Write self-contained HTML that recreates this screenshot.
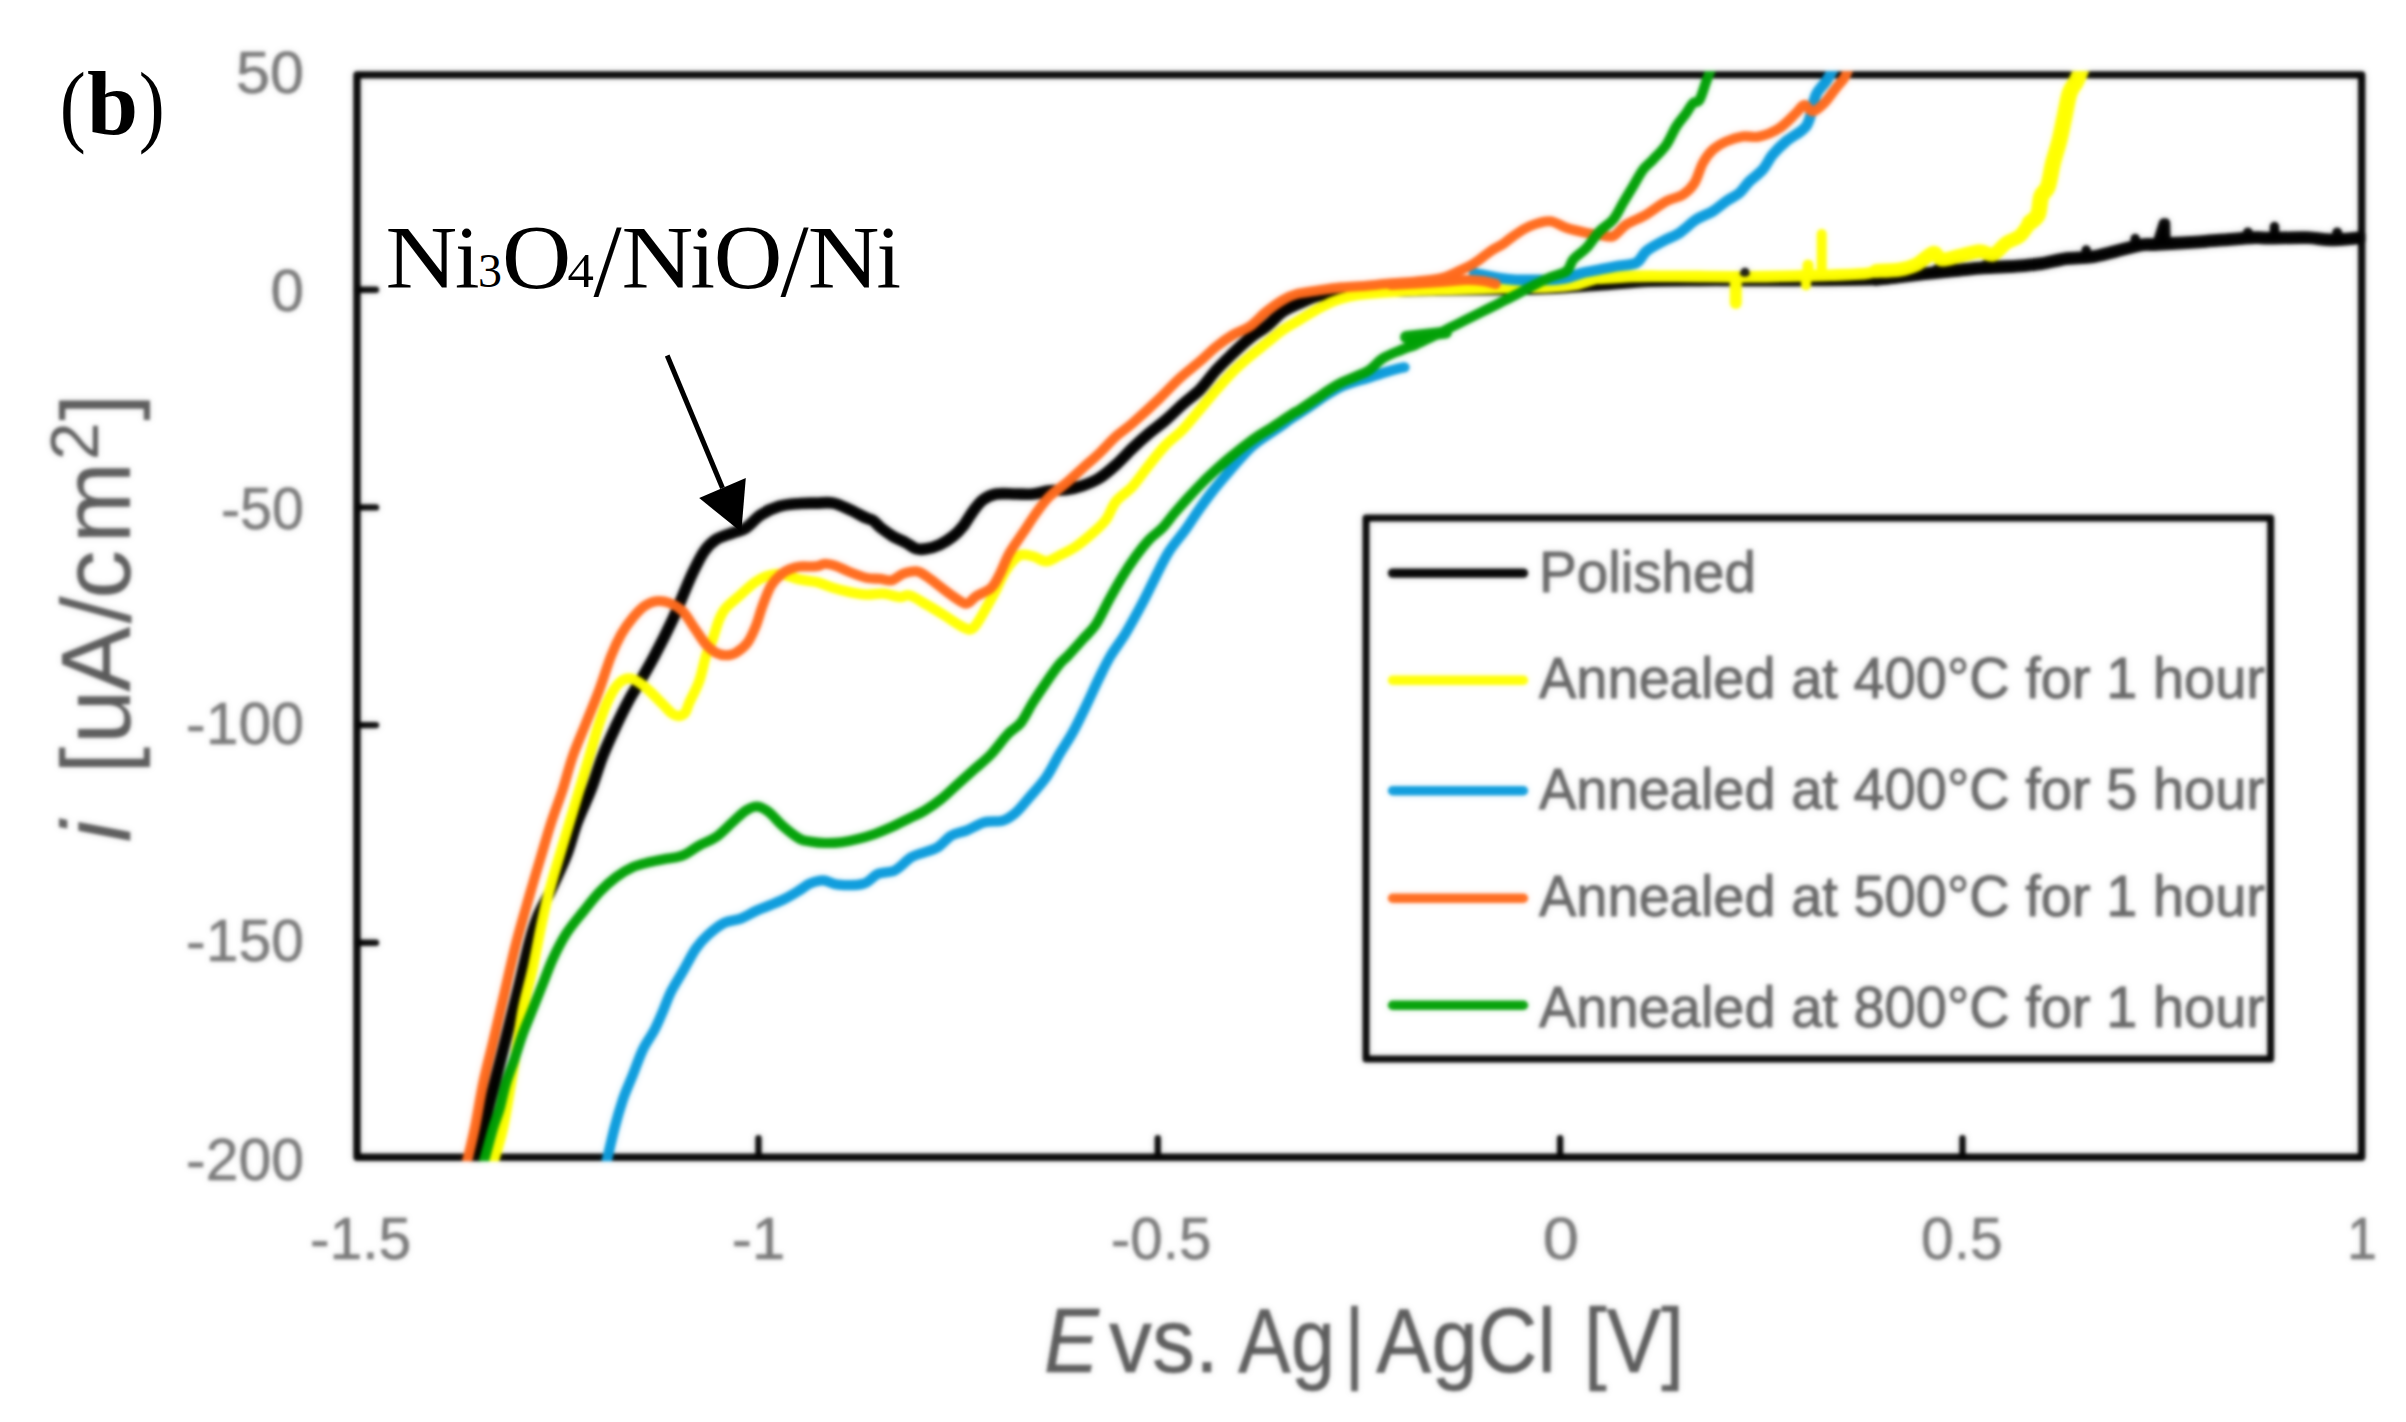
<!DOCTYPE html>
<html><head><meta charset="utf-8"><title>Figure (b)</title>
<style>
html,body{margin:0;padding:0;background:#fff;}
body{width:2406px;height:1422px;overflow:hidden;}
svg{display:block;}
.sans{font-family:"Liberation Sans",sans-serif;}
.serif{font-family:"Liberation Serif",serif;}
</style></head><body>
<svg width="2406" height="1422" viewBox="0 0 2406 1422">
<defs>
<filter id="bl" color-interpolation-filters="sRGB" x="-2%" y="-2%" width="104%" height="104%" filterUnits="objectBoundingBox"><feGaussianBlur in="SourceGraphic" stdDeviation="1.4" result="a"/><feGaussianBlur in="SourceGraphic" stdDeviation="3.4" result="b"/><feComposite in="a" in2="b" operator="arithmetic" k1="0" k2="0.74" k3="0.26" k4="0"/></filter>
<clipPath id="cp"><rect x="353" y="71.2" width="2012.4" height="1090"/></clipPath>
</defs>
<rect width="2406" height="1422" fill="#fff"/>
<g filter="url(#bl)">
<rect x="0" y="0" width="2406" height="1422" fill="#fff"/>
<g fill="none" stroke="#000" stroke-width="7.4" stroke-linecap="round" stroke-linejoin="round">
<rect x="357.0" y="74.9" width="2004.7" height="1082.4"/>
<g stroke-width="6.4"><line x1="758.5" y1="1157.3" x2="758.5" y2="1138.3"/><line x1="1157.8" y1="1157.3" x2="1157.8" y2="1138.3"/><line x1="1560.1" y1="1157.3" x2="1560.1" y2="1138.3"/><line x1="1962.5" y1="1157.3" x2="1962.5" y2="1138.3"/><line x1="357.0" y1="289.7" x2="376.0" y2="289.7"/><line x1="357.0" y1="507.4" x2="376.0" y2="507.4"/><line x1="357.0" y1="725.1" x2="376.0" y2="725.1"/><line x1="357.0" y1="942.8" x2="376.0" y2="942.8"/></g>
</g>
<g clip-path="url(#cp)" fill="none" stroke-linecap="round" stroke-linejoin="round">
<path d="M474.9,1162.0C476.3,1156.3 479.8,1141.2 483.1,1128.1C486.4,1115.0 491.2,1096.2 494.5,1083.2C497.8,1070.2 500.3,1061.1 503.1,1050.0C505.9,1038.9 508.6,1027.8 511.4,1016.7C514.2,1005.6 516.7,995.9 519.7,983.4C522.8,970.9 526.6,953.3 529.7,941.9C532.8,930.5 535.1,923.3 538.5,915.0C541.9,906.7 545.4,901.9 550.0,892.0C554.6,882.1 561.8,867.1 566.3,855.5C570.8,843.9 573.0,833.4 577.1,822.3C581.2,811.2 586.9,800.1 591.2,789.0C595.5,777.9 598.6,766.3 602.8,755.8C606.9,745.3 611.7,735.2 616.1,725.8C620.5,716.4 625.5,706.4 629.4,699.2C633.3,692.0 635.2,689.8 639.4,682.6C643.6,675.4 648.8,666.5 654.4,656.0C660.0,645.5 668.0,629.5 672.7,619.5C677.4,609.5 679.3,604.0 682.6,596.2C685.9,588.5 689.0,580.5 692.6,573.0C696.2,565.5 700.3,556.8 704.2,551.3C708.1,545.8 711.2,542.8 715.9,539.7C720.6,536.7 727.5,535.0 732.5,533.0C737.5,531.0 741.1,531.0 745.8,528.0C750.5,525.0 755.3,518.4 760.8,514.8C766.3,511.2 772.5,508.3 779.0,506.4C785.5,504.5 793.7,504.1 800.0,503.5C806.3,502.9 811.1,503.2 816.6,503.1C822.1,503.0 827.8,502.0 833.3,503.1C838.8,504.2 844.4,507.3 849.9,509.8C855.4,512.3 862.6,516.3 866.5,518.1C870.4,519.9 870.6,518.9 873.0,520.5C875.4,522.1 877.6,525.4 881.0,528.0C884.4,530.6 888.9,533.9 893.1,536.4C897.3,538.9 902.5,540.9 906.4,543.0C910.3,545.1 913.1,547.8 916.4,548.8C919.7,549.8 922.5,549.5 926.4,548.8C930.3,548.1 935.3,546.8 939.7,544.7C944.1,542.6 949.1,539.5 953.0,536.4C956.9,533.3 959.6,530.6 962.9,526.4C966.2,522.2 969.6,515.8 972.9,511.4C976.2,507.0 979.0,502.7 982.9,499.8C986.8,496.9 990.7,495.0 996.2,494.0C1001.7,493.0 1010.0,494.0 1016.1,494.0C1022.2,494.0 1027.2,494.6 1032.8,494.0C1038.3,493.4 1043.9,491.4 1049.4,490.7C1054.9,490.0 1060.5,490.6 1066.0,489.8C1071.5,489.0 1077.0,487.6 1082.6,485.7C1088.1,483.8 1093.8,481.7 1099.3,478.2C1104.8,474.7 1110.4,469.9 1115.9,464.9C1121.4,459.9 1127.0,453.6 1132.5,448.3C1138.0,443.0 1143.5,438.0 1149.1,433.3C1154.6,428.6 1160.1,424.9 1165.8,420.0C1171.5,415.1 1177.3,409.1 1183.0,404.0C1188.7,398.9 1194.4,395.3 1200.0,389.6C1205.6,383.9 1211.0,375.8 1216.6,369.7C1222.1,363.6 1227.8,358.3 1233.3,353.0C1238.8,347.7 1244.4,342.5 1249.9,338.1C1255.4,333.7 1261.0,330.8 1266.5,326.4C1272.0,322.0 1277.5,315.4 1283.1,311.5C1288.6,307.6 1294.2,305.7 1299.8,303.2C1305.3,300.7 1309.7,298.4 1316.4,296.5C1323.1,294.6 1326.1,292.9 1340.0,292.0C1353.9,291.1 1381.7,291.3 1400.0,291.0C1418.3,290.7 1433.3,290.2 1450.0,290.0C1466.7,289.8 1483.3,289.8 1500.0,289.5C1516.7,289.2 1533.3,289.2 1550.0,288.5C1566.7,287.8 1583.3,286.2 1600.0,285.0C1616.7,283.8 1633.3,281.9 1650.0,281.2C1666.7,280.5 1685.3,280.7 1700.0,280.6C1714.7,280.5 1721.3,280.6 1738.0,280.6C1754.7,280.6 1777.0,280.8 1800.0,280.6C1823.0,280.4 1857.8,280.3 1876.0,279.5C1894.2,278.7 1899.5,276.7 1909.1,275.6C1918.6,274.5 1925.1,273.7 1933.3,272.8C1941.5,271.9 1949.9,271.1 1958.2,270.3C1966.5,269.5 1973.4,268.5 1983.1,267.8C1992.8,267.1 2006.7,266.9 2016.4,266.2C2026.1,265.5 2033.0,264.9 2041.3,263.7C2049.6,262.4 2058.0,259.8 2066.3,258.7C2074.6,257.6 2082.9,258.2 2091.2,257.0C2099.5,255.8 2107.8,253.2 2116.1,251.2C2124.4,249.2 2134.7,246.1 2141.1,245.0C2147.5,243.9 2149.4,244.8 2154.4,244.5C2159.4,244.2 2163.5,243.9 2171.0,243.5C2178.5,243.1 2190.4,242.4 2199.3,241.8C2208.2,241.2 2215.2,240.5 2224.5,239.8C2233.8,239.1 2247.9,238.0 2255.3,237.7C2262.7,237.4 2260.4,238.2 2269.1,238.2C2277.8,238.2 2297.1,237.4 2307.4,237.7C2317.7,238.0 2322.0,239.8 2330.9,239.8C2339.8,239.8 2356.0,238.0 2361.0,237.7" stroke="#000000" stroke-width="11.6" />
<path d="M1876.0,279.5C1881.5,278.9 1899.5,276.7 1909.1,275.6C1918.6,274.5 1925.1,273.7 1933.3,272.8C1941.5,271.9 1949.9,271.1 1958.2,270.3C1966.5,269.5 1973.4,268.5 1983.1,267.8C1992.8,267.1 2006.7,266.9 2016.4,266.2C2026.1,265.5 2033.0,264.9 2041.3,263.7C2049.6,262.4 2058.0,259.8 2066.3,258.7C2074.6,257.6 2082.9,258.2 2091.2,257.0C2099.5,255.8 2107.8,253.2 2116.1,251.2C2124.4,249.2 2134.7,246.1 2141.1,245.0C2147.5,243.9 2149.4,244.8 2154.4,244.5C2159.4,244.2 2163.5,243.9 2171.0,243.5C2178.5,243.1 2190.4,242.4 2199.3,241.8C2208.2,241.2 2215.2,240.5 2224.5,239.8C2233.8,239.1 2247.9,238.0 2255.3,237.7C2262.7,237.4 2260.4,238.2 2269.1,238.2C2277.8,238.2 2297.1,237.4 2307.4,237.7C2317.7,238.0 2322.0,239.8 2330.9,239.8C2339.8,239.8 2356.0,238.0 2361.0,237.7" stroke="#000000" stroke-width="12.8" />
<path d="M1745,277L1745,272.5" stroke="#000000" stroke-width="9.5"/>
<path d="M1936.6,271L1936.6,269.5" stroke="#000000" stroke-width="10"/>
<path d="M1985,267L1985,265" stroke="#000000" stroke-width="9.5"/>
<path d="M2086.2,256L2086.2,250" stroke="#000000" stroke-width="9.5"/>
<path d="M2135.2,244L2135.2,238.5" stroke="#000000" stroke-width="9.5"/>
<path d="M2157.5,242L2163.5,223" stroke="#000000" stroke-width="9.5"/>
<path d="M2165.5,223L2166,242" stroke="#000000" stroke-width="9.5"/>
<path d="M2247.9,236L2247.9,232.5" stroke="#000000" stroke-width="10"/>
<path d="M2274.5,236L2274.5,226.5" stroke="#000000" stroke-width="9.5"/>
<path d="M2337.2,238L2337.2,232.5" stroke="#000000" stroke-width="10"/>
<path d="M493.5,1162.0C495.1,1156.3 500.2,1141.2 503.1,1128.1C506.0,1115.0 508.8,1096.2 511.0,1083.2C513.2,1070.2 514.4,1062.5 516.4,1050.0C518.4,1037.5 520.2,1022.3 523.0,1008.4C525.8,994.5 530.0,980.6 533.0,966.8C536.0,952.9 538.6,937.8 541.3,925.3C544.0,912.8 546.0,903.6 549.0,892.0C552.0,880.4 556.2,867.1 559.6,855.5C563.0,843.9 566.3,833.4 569.6,822.3C572.9,811.2 576.3,800.1 579.6,789.0C582.9,777.9 586.2,766.9 589.5,755.8C592.8,744.7 596.2,732.2 599.5,722.5C602.8,712.8 606.2,704.2 609.5,697.6C612.8,691.0 616.2,685.8 619.5,682.6C622.8,679.4 626.1,678.4 629.4,678.4C632.7,678.4 636.1,680.5 639.4,682.6C642.7,684.7 645.5,687.3 649.4,690.9C653.3,694.5 658.9,700.4 662.7,704.2C666.5,708.0 669.4,711.5 672.0,713.5C674.6,715.5 676.3,716.1 678.5,716.0C680.7,715.9 683.2,715.2 685.0,713.0C686.8,710.8 686.9,708.0 689.3,702.6C691.7,697.2 696.5,688.7 699.3,680.9C702.1,673.1 703.7,662.9 705.9,656.0C708.1,649.1 710.4,645.5 712.6,639.4C714.8,633.3 717.0,624.8 719.2,619.5C721.4,614.2 722.3,612.0 725.9,607.9C729.5,603.8 736.1,598.8 740.8,594.6C745.5,590.4 749.9,586.0 754.1,582.9C758.3,579.8 761.5,577.8 765.8,576.3C770.1,574.8 774.3,573.5 780.0,574.0C785.7,574.5 793.9,578.2 800.0,579.6C806.1,581.0 811.1,580.7 816.6,582.1C822.1,583.5 827.8,586.2 833.3,587.9C838.8,589.6 844.4,591.0 849.9,592.1C855.4,593.2 861.0,594.3 866.5,594.6C872.0,594.9 877.6,593.3 883.1,593.7C888.6,594.1 895.4,596.8 899.8,597.1C904.2,597.4 905.3,594.2 909.7,595.4C914.1,596.6 920.9,601.3 926.4,604.5C931.9,607.7 937.5,611.0 943.0,614.5C948.5,618.0 955.2,622.8 959.6,625.3C964.0,627.8 966.8,629.6 969.6,629.5C972.4,629.4 973.4,628.1 976.2,624.5C979.0,620.9 982.9,613.7 986.2,607.9C989.5,602.1 992.9,595.9 996.2,589.6C999.5,583.3 1002.1,575.7 1006.0,570.0C1009.9,564.3 1015.0,557.8 1019.5,555.5C1024.0,553.2 1028.4,555.3 1032.8,556.3C1037.2,557.3 1041.7,561.4 1046.1,561.3C1050.5,561.2 1054.4,558.0 1059.4,555.5C1064.4,553.0 1070.5,550.1 1076.0,546.4C1081.5,542.7 1087.6,537.5 1092.6,533.1C1097.6,528.7 1102.0,525.1 1105.9,519.8C1109.8,514.5 1111.5,507.1 1115.9,501.5C1120.3,495.9 1127.0,492.6 1132.5,486.5C1138.0,480.4 1143.5,471.8 1149.1,464.9C1154.6,458.0 1160.2,450.7 1165.8,444.9C1171.3,439.1 1177.2,435.3 1182.4,430.0C1187.6,424.7 1191.3,419.7 1197.0,413.0C1202.7,406.3 1210.5,396.6 1216.6,389.6C1222.6,382.7 1227.8,376.8 1233.3,371.3C1238.8,365.8 1244.4,361.1 1249.9,356.4C1255.4,351.7 1261.0,347.5 1266.5,343.1C1272.0,338.7 1277.5,333.7 1283.1,329.8C1288.6,325.9 1294.2,323.1 1299.8,319.8C1305.3,316.5 1310.9,312.9 1316.4,309.8C1321.9,306.8 1327.5,303.7 1333.0,301.5C1338.5,299.3 1344.0,297.8 1349.6,296.5C1355.1,295.2 1358.0,294.8 1366.3,294.0C1374.6,293.2 1385.7,292.2 1399.5,291.5C1413.3,290.8 1431.4,290.4 1449.4,289.9C1467.4,289.3 1491.0,288.6 1507.6,288.2C1524.2,287.8 1537.9,287.9 1549.1,287.4C1560.3,286.9 1566.5,286.5 1575.0,285.0C1583.5,283.5 1590.1,279.9 1599.8,278.5C1609.5,277.1 1621.9,276.8 1633.0,276.4C1644.1,276.0 1655.2,276.2 1666.3,276.2C1677.4,276.2 1689.0,276.3 1699.5,276.4C1710.0,276.5 1721.1,276.7 1729.4,276.8C1737.7,276.9 1740.5,276.9 1749.4,276.8C1758.3,276.7 1773.7,276.5 1782.6,276.3C1791.5,276.1 1794.6,276.0 1802.6,275.8C1810.6,275.6 1820.3,275.6 1830.8,275.2C1841.3,274.8 1858.3,274.2 1865.8,273.5C1873.3,272.8 1870.3,271.7 1876.0,271.0C1881.7,270.3 1893.2,270.6 1900.0,269.5C1906.8,268.4 1911.0,267.3 1916.6,264.5C1922.1,261.7 1929.1,253.7 1933.3,252.9C1937.5,252.1 1937.4,258.9 1941.6,259.5C1945.8,260.1 1951.8,257.6 1958.2,256.2C1964.6,254.8 1974.0,251.5 1979.8,251.2C1985.6,250.9 1988.7,255.9 1993.1,254.5C1997.5,253.1 2002.0,246.0 2006.4,242.9C2010.8,239.8 2015.8,239.5 2019.7,236.2C2023.6,232.9 2026.7,226.5 2029.7,222.9C2032.8,219.3 2036.1,219.0 2038.0,214.6C2039.9,210.2 2039.6,201.0 2041.3,196.3C2043.0,191.6 2046.0,191.9 2048.0,186.4C2049.9,180.9 2051.1,170.9 2053.0,163.1C2054.9,155.3 2057.7,147.6 2059.6,139.8C2061.5,132.0 2062.9,124.2 2064.6,116.5C2066.3,108.8 2067.7,99.1 2069.6,93.3C2071.5,87.5 2074.1,85.8 2076.2,81.6C2078.3,77.4 2081.0,70.3 2082.0,68.0" stroke="#ffff00" stroke-width="10.3" />
<path d="M1735.8,278L1735.8,303" stroke="#ffff00" stroke-width="12"/>
<path d="M1808,270L1808,265" stroke="#ffff00" stroke-width="11"/>
<path d="M1821.7,270L1821.7,234" stroke="#ffff00" stroke-width="10"/>
<path d="M1806,278L1806,285.5" stroke="#ffff00" stroke-width="10"/>
<path d="M1599.8,278.5C1605.3,278.1 1621.9,276.8 1633.0,276.4C1644.1,276.0 1655.2,276.2 1666.3,276.2C1677.4,276.2 1689.0,276.3 1699.5,276.4C1710.0,276.5 1721.1,276.7 1729.4,276.8C1737.7,276.9 1740.5,276.9 1749.4,276.8C1758.3,276.7 1773.7,276.5 1782.6,276.3C1791.5,276.1 1794.6,276.0 1802.6,275.8C1810.6,275.6 1820.3,275.6 1830.8,275.2C1841.3,274.8 1858.3,274.2 1865.8,273.5C1873.3,272.8 1874.3,271.4 1876.0,271.0" stroke="#ffff00" stroke-width="11.6" />
<path d="M1876.0,271.0C1880.0,270.8 1893.2,270.6 1900.0,269.5C1906.8,268.4 1911.0,267.3 1916.6,264.5C1922.1,261.7 1929.1,253.7 1933.3,252.9C1937.5,252.1 1937.4,258.9 1941.6,259.5C1945.8,260.1 1951.8,257.6 1958.2,256.2C1964.6,254.8 1974.0,251.5 1979.8,251.2C1985.6,250.9 1988.7,255.9 1993.1,254.5C1997.5,253.1 2002.0,246.0 2006.4,242.9C2010.8,239.8 2015.8,239.5 2019.7,236.2C2023.6,232.9 2028.0,225.1 2029.7,222.9" stroke="#ffff00" stroke-width="14" />
<path d="M2029.7,222.9C2031.1,221.5 2036.1,219.0 2038.0,214.6C2039.9,210.2 2039.6,201.0 2041.3,196.3C2043.0,191.6 2046.0,191.9 2048.0,186.4C2049.9,180.9 2051.1,170.9 2053.0,163.1C2054.9,155.3 2057.7,147.6 2059.6,139.8C2061.5,132.0 2062.9,124.2 2064.6,116.5C2066.3,108.8 2067.7,99.1 2069.6,93.3C2071.5,87.5 2074.1,85.8 2076.2,81.6C2078.3,77.4 2081.0,70.3 2082.0,68.0" stroke="#ffff00" stroke-width="16" />
<ellipse cx="1744.8" cy="273.2" rx="5" ry="3.6" fill="#111" stroke="none"/>
<path d="M606.5,1162.0C607.8,1156.3 611.8,1138.5 614.5,1128.1C617.2,1117.7 619.8,1108.7 622.8,1099.8C625.8,1090.9 629.5,1083.2 632.8,1074.9C636.1,1066.6 639.1,1057.4 642.7,1049.9C646.3,1042.4 651.1,1036.4 654.4,1030.0C657.7,1023.6 659.9,1018.1 662.7,1011.7C665.5,1005.3 667.7,998.4 671.0,991.8C674.3,985.1 678.5,979.0 682.6,971.8C686.8,964.6 691.7,954.6 695.9,948.5C700.1,942.4 702.9,939.5 707.6,935.2C712.3,930.9 718.7,925.6 724.2,922.8C729.7,920.0 735.3,920.7 740.8,918.6C746.3,916.5 750.5,913.4 757.4,910.3C764.3,907.2 775.3,903.4 782.4,900.0C789.5,896.6 795.4,892.8 800.0,890.0C804.6,887.2 806.1,885.1 810.0,883.5C813.9,881.9 818.6,880.2 823.3,880.4C828.0,880.6 831.6,884.0 838.2,884.6C844.9,885.2 856.6,885.6 863.2,883.8C869.9,882.0 872.8,876.0 878.1,873.8C883.4,871.6 889.2,873.3 894.8,870.5C900.3,867.7 906.4,860.2 911.4,857.2C916.4,854.2 920.3,853.9 924.7,852.2C929.1,850.5 933.6,850.0 938.0,847.2C942.4,844.4 946.6,838.4 951.3,835.6C956.0,832.8 960.8,832.8 966.3,830.6C971.8,828.4 978.4,824.0 984.5,822.3C990.6,820.6 997.5,822.3 1002.8,820.6C1008.1,818.9 1011.7,816.2 1016.1,812.3C1020.5,808.4 1024.4,803.1 1029.4,797.3C1034.4,791.5 1041.1,784.6 1046.1,777.4C1051.1,770.2 1055.0,761.6 1059.4,754.1C1063.8,746.6 1068.3,740.5 1072.7,732.5C1077.1,724.5 1081.6,715.0 1086.0,705.9C1090.4,696.8 1095.2,685.9 1099.3,677.6C1103.4,669.3 1106.1,663.5 1110.5,656.0C1114.9,648.5 1120.6,641.6 1125.9,632.8C1131.2,623.9 1137.5,612.3 1142.5,602.9C1147.5,593.5 1151.4,584.9 1155.8,576.3C1160.2,567.7 1164.2,559.0 1169.1,551.3C1174.0,543.6 1180.2,536.9 1185.2,530.0C1190.2,523.1 1194.4,516.0 1198.9,509.7C1203.4,503.4 1207.2,498.1 1212.0,492.0C1216.8,485.9 1223.0,478.7 1227.7,473.2C1232.4,467.7 1235.8,463.6 1240.0,459.0C1244.2,454.4 1248.6,449.5 1252.9,445.7C1257.2,441.9 1261.7,439.1 1266.0,436.0C1270.3,432.9 1274.7,430.3 1278.9,427.4C1283.1,424.5 1287.9,420.9 1291.4,418.5C1294.9,416.1 1295.8,415.8 1300.0,413.0C1304.2,410.2 1311.7,405.2 1316.4,402.0C1321.1,398.8 1323.8,396.6 1328.0,394.0C1332.2,391.4 1336.9,388.6 1341.5,386.5C1346.1,384.4 1351.3,382.8 1355.4,381.5C1359.5,380.2 1361.7,379.9 1366.3,378.5C1370.9,377.1 1377.4,374.7 1382.9,373.0C1388.4,371.3 1395.9,369.2 1399.5,368.3C1403.1,367.4 1403.7,367.5 1404.5,367.3" stroke="#0a9bdc" stroke-width="10.3" />
<path d="M1474.3,273.2C1478.5,274.0 1492.4,277.1 1499.3,278.2C1506.2,279.3 1510.4,279.6 1515.9,279.9C1521.4,280.2 1527.0,279.9 1532.5,279.9C1538.0,279.9 1543.5,280.2 1549.1,279.9C1554.6,279.6 1560.1,279.4 1565.8,278.2C1571.5,277.0 1577.4,274.2 1583.1,272.8C1588.8,271.4 1594.2,270.6 1599.8,269.5C1605.3,268.4 1610.3,267.3 1616.4,266.2C1622.5,265.1 1631.3,265.3 1636.3,262.8C1641.3,260.3 1641.9,254.8 1646.3,251.2C1650.7,247.6 1657.4,244.2 1662.9,241.2C1668.4,238.1 1674.0,236.5 1679.5,232.9C1685.0,229.3 1690.7,223.2 1696.2,219.6C1701.8,216.0 1707.8,214.4 1712.8,211.3C1717.8,208.2 1721.7,204.4 1726.1,201.3C1730.5,198.2 1735.5,196.3 1739.4,193.0C1743.3,189.7 1745.5,185.3 1749.4,181.4C1753.3,177.5 1758.8,174.1 1762.7,169.7C1766.6,165.3 1768.7,159.5 1772.6,154.8C1776.5,150.1 1780.9,145.7 1785.9,141.5C1790.9,137.3 1798.7,133.4 1802.6,129.8C1806.5,126.2 1807.0,125.7 1809.2,119.9C1811.4,114.1 1813.1,101.3 1815.9,94.9C1818.7,88.5 1822.9,86.1 1825.9,81.6C1828.9,77.1 1832.7,70.3 1834.0,68.0" stroke="#0a9bdc" stroke-width="10.8" />
<path d="M1391.2,285.0C1399.5,284.5 1428.5,282.8 1441.0,282.0C1453.5,281.2 1459.1,280.2 1466.0,280.0C1472.9,279.8 1477.6,280.3 1482.6,281.0C1487.6,281.7 1493.7,283.5 1495.9,284.0" stroke="#ff6a1c" stroke-width="10.1" />
<path d="M466.9,1162.0C468.2,1156.3 472.1,1141.2 474.8,1128.1C477.5,1115.0 480.1,1097.6 483.1,1083.2C486.2,1068.8 489.5,1056.8 493.1,1041.6C496.7,1026.4 500.8,1008.4 504.7,991.8C508.6,975.2 512.1,958.5 516.4,941.9C520.7,925.3 526.4,906.4 530.5,892.0C534.6,877.6 537.8,867.1 541.3,855.5C544.8,843.9 547.7,833.4 551.3,822.3C554.9,811.2 559.3,800.1 562.9,789.0C566.5,777.9 569.0,766.9 572.9,755.8C576.8,744.7 581.8,733.6 586.2,722.5C590.6,711.4 595.4,700.4 599.5,689.3C603.6,678.2 607.5,665.1 611.1,656.0C614.7,646.9 617.5,640.9 621.1,634.5C624.7,628.1 628.9,622.5 632.8,617.8C636.7,613.1 640.5,609.0 644.4,606.2C648.3,603.4 651.9,601.8 656.0,601.2C660.1,600.7 664.9,601.2 669.3,602.9C673.7,604.6 678.4,607.1 682.6,611.2C686.8,615.4 690.4,622.3 694.3,627.8C698.2,633.3 702.3,640.2 705.9,644.4C709.5,648.6 712.6,651.0 715.9,652.8C719.2,654.6 722.6,655.2 725.9,655.2C729.2,655.2 732.2,654.9 735.8,652.8C739.4,650.7 744.2,647.2 747.5,642.8C750.8,638.4 753.3,632.3 755.8,626.2C758.3,620.1 759.9,612.9 762.4,606.2C764.9,599.5 767.7,591.5 770.7,586.2C773.8,580.9 777.4,577.5 780.7,574.6C784.0,571.7 787.5,570.1 790.7,568.8C793.9,567.4 795.7,566.9 800.0,566.5C804.3,566.1 812.5,566.8 816.6,566.3C820.8,565.8 821.6,563.8 824.9,563.8C828.2,563.8 832.4,564.9 836.6,566.3C840.8,567.7 844.9,570.2 849.9,572.1C854.9,574.0 861.5,576.8 866.5,577.9C871.5,579.0 875.6,578.4 879.8,578.8C883.9,579.2 887.5,581.2 891.4,580.4C895.3,579.6 898.9,575.3 903.1,573.8C907.3,572.3 912.5,570.9 916.4,571.3C920.3,571.7 922.5,573.8 926.4,576.3C930.3,578.8 935.3,582.9 939.7,586.2C944.1,589.5 948.6,593.3 953.0,596.2C957.4,599.1 962.4,603.7 966.3,603.7C970.2,603.7 972.1,598.8 976.2,596.2C980.4,593.6 987.3,591.5 991.2,587.9C995.1,584.3 996.5,580.4 999.5,574.6C1002.5,568.8 1005.6,559.9 1009.5,553.0C1013.4,546.1 1018.4,539.8 1022.8,533.1C1027.2,526.5 1031.7,519.2 1036.1,513.1C1040.5,507.0 1044.4,501.5 1049.4,496.5C1054.4,491.5 1060.5,487.9 1066.0,483.2C1071.5,478.5 1077.0,473.2 1082.6,468.2C1088.1,463.2 1093.8,458.6 1099.3,453.3C1104.8,448.0 1110.4,441.6 1115.9,436.6C1121.4,431.6 1125.2,429.7 1132.5,423.3C1139.8,416.9 1152.1,405.6 1160.0,398.0C1167.9,390.4 1173.3,384.1 1180.0,378.0C1186.7,371.9 1193.9,366.6 1200.0,361.3C1206.1,356.0 1211.0,350.8 1216.6,346.4C1222.1,342.0 1227.8,338.0 1233.3,334.7C1238.8,331.4 1244.4,330.3 1249.9,326.4C1255.4,322.5 1261.0,315.9 1266.5,311.5C1272.0,307.1 1278.1,302.7 1283.1,299.8C1288.1,296.9 1290.9,295.5 1296.4,294.0C1302.0,292.5 1308.9,291.8 1316.4,290.7C1323.9,289.6 1333.0,288.2 1341.3,287.4C1349.6,286.6 1358.0,286.4 1366.3,285.7C1374.6,285.0 1382.9,283.9 1391.2,283.2C1399.5,282.5 1407.8,282.3 1416.1,281.5C1424.4,280.7 1434.2,279.8 1441.1,278.2C1448.0,276.6 1452.2,274.1 1457.7,271.6C1463.2,269.1 1468.8,266.7 1474.3,263.3C1479.8,259.9 1486.1,254.2 1490.9,251.0C1495.7,247.8 1499.3,246.5 1503.0,244.0C1506.7,241.5 1508.8,239.2 1513.3,236.2C1517.8,233.2 1523.8,228.7 1529.9,226.2C1536.0,223.7 1543.8,221.0 1549.9,221.3C1556.0,221.6 1560.4,226.0 1566.5,227.9C1572.6,229.8 1580.9,231.7 1586.5,232.9C1592.1,234.1 1595.6,234.4 1600.0,235.0C1604.4,235.6 1608.7,237.9 1613.1,236.2C1617.5,234.5 1620.9,228.2 1626.4,224.6C1631.9,221.0 1639.7,218.5 1646.3,214.6C1652.9,210.7 1660.2,204.6 1666.3,201.3C1672.4,198.0 1678.2,197.8 1682.9,194.7C1687.6,191.6 1691.2,188.3 1694.5,183.0C1697.8,177.7 1699.8,168.6 1702.8,163.1C1705.8,157.6 1708.9,153.4 1712.8,149.8C1716.7,146.2 1721.1,143.7 1726.1,141.5C1731.1,139.3 1737.2,137.3 1742.7,136.5C1748.2,135.7 1753.3,137.9 1759.4,136.5C1765.5,135.1 1773.2,132.1 1779.3,128.2C1785.4,124.3 1791.8,117.1 1795.9,113.2C1800.1,109.3 1801.4,105.2 1804.2,104.9C1807.0,104.6 1809.3,111.8 1812.6,111.5C1815.9,111.2 1820.3,107.1 1824.2,103.2C1828.1,99.3 1832.5,92.5 1835.8,88.3C1839.1,84.1 1841.9,81.7 1844.1,78.3C1846.3,74.9 1848.2,69.7 1849.0,68.0" stroke="#ff6a1c" stroke-width="10.1" />
<path d="M483.8,1162.0C485.4,1156.3 490.4,1137.1 493.1,1128.1C495.8,1119.1 497.7,1115.6 499.8,1108.1C501.9,1100.6 503.5,1091.5 506.0,1083.2C508.5,1074.9 511.9,1066.6 514.7,1058.3C517.5,1050.0 520.0,1041.6 523.0,1033.3C526.0,1025.0 529.7,1016.7 533.0,1008.4C536.3,1000.1 539.7,991.7 543.0,983.4C546.3,975.1 549.1,966.8 553.0,958.5C556.9,950.2 561.3,941.4 566.3,933.6C571.3,925.9 577.4,918.9 582.9,912.0C588.4,905.1 594.0,897.8 599.5,892.0C605.0,886.2 610.6,881.2 616.1,877.1C621.6,873.0 627.2,869.6 632.8,867.1C638.3,864.6 643.9,863.6 649.4,862.2C654.9,860.8 660.5,859.9 666.0,858.8C671.5,857.7 677.1,857.7 682.6,855.5C688.1,853.3 693.8,848.5 699.3,845.5C704.8,842.5 710.4,841.1 715.9,837.2C721.4,833.3 727.5,826.7 732.5,822.3C737.5,817.9 741.6,813.2 745.8,810.6C749.9,808.0 753.5,806.2 757.4,806.5C761.3,806.8 764.9,809.1 769.1,812.3C773.3,815.5 777.2,821.1 782.4,825.6C787.5,830.1 795.4,836.4 800.0,839.0C804.6,841.6 805.9,840.7 810.0,841.4C814.1,842.1 819.6,842.9 824.9,843.0C830.2,843.1 836.0,842.9 841.6,842.2C847.2,841.5 852.7,840.3 858.2,838.9C863.7,837.5 869.3,835.8 874.8,833.9C880.3,832.0 885.8,829.7 891.4,827.2C897.0,824.7 902.5,821.7 908.1,818.9C913.7,816.1 919.2,813.9 924.7,810.6C930.2,807.3 935.8,803.4 941.3,799.0C946.8,794.6 952.3,789.0 957.9,784.0C963.5,779.0 969.0,774.1 974.6,769.1C980.2,764.1 985.7,759.9 991.2,754.1C996.7,748.3 1002.8,739.4 1007.8,734.1C1012.8,728.8 1016.9,727.8 1021.1,722.5C1025.3,717.2 1028.6,709.2 1032.8,702.6C1037.0,696.0 1041.7,689.0 1046.1,682.6C1050.5,676.2 1055.8,668.7 1059.4,664.3C1063.0,659.9 1063.8,660.1 1067.7,656.0C1071.6,651.9 1077.9,644.8 1082.6,639.5C1087.3,634.2 1091.5,631.1 1095.9,624.5C1100.3,617.9 1104.8,607.6 1109.2,599.6C1113.6,591.6 1118.1,583.5 1122.5,576.3C1126.9,569.1 1131.4,562.4 1135.8,556.3C1140.2,550.2 1144.7,544.4 1149.1,539.7C1153.5,535.0 1158.0,532.5 1162.3,528.0C1166.6,523.5 1170.4,517.8 1175.0,512.5C1179.6,507.2 1185.0,501.1 1189.7,496.0C1194.4,490.9 1198.4,486.6 1203.0,482.0C1207.6,477.4 1212.6,472.8 1217.2,468.6C1221.8,464.4 1225.9,460.8 1230.5,457.0C1235.1,453.2 1240.0,449.2 1244.6,445.7C1249.2,442.2 1253.4,439.1 1258.0,436.0C1262.6,432.9 1266.4,431.0 1272.0,427.4C1277.6,423.8 1286.7,417.5 1291.4,414.5C1296.1,411.5 1295.8,412.2 1300.0,409.5C1304.2,406.8 1311.7,401.7 1316.4,398.5C1321.1,395.3 1323.8,393.2 1328.0,390.5C1332.2,387.8 1336.9,384.8 1341.5,382.5C1346.1,380.2 1350.8,378.7 1355.4,376.6C1360.0,374.6 1364.6,373.2 1369.2,370.2C1373.8,367.1 1377.6,361.7 1382.9,358.3C1388.2,354.9 1395.7,352.3 1401.2,350.0C1406.7,347.7 1410.8,346.8 1416.1,344.5C1421.4,342.2 1427.2,339.1 1432.8,336.4C1438.3,333.7 1443.9,330.9 1449.4,328.1C1454.9,325.3 1460.5,322.6 1466.0,319.8C1471.5,317.0 1477.0,314.3 1482.6,311.5C1488.1,308.7 1493.8,306.0 1499.3,303.2C1504.8,300.4 1510.4,297.7 1515.9,294.8C1521.4,291.9 1526.9,288.9 1532.5,286.0C1538.1,283.1 1543.8,280.0 1549.5,277.5C1555.2,275.0 1562.5,274.1 1566.5,271.1C1570.5,268.1 1569.9,263.4 1573.2,259.5C1576.5,255.6 1582.1,252.7 1586.5,247.9C1590.9,243.2 1595.4,235.7 1599.8,231.0C1604.2,226.3 1609.2,224.3 1613.1,219.6C1617.0,214.9 1619.7,208.6 1623.0,203.0C1626.3,197.4 1629.7,191.9 1633.0,186.3C1636.3,180.8 1639.7,174.1 1643.0,169.7C1646.3,165.3 1649.1,163.8 1653.0,159.7C1656.9,155.5 1662.4,150.3 1666.3,144.8C1670.2,139.3 1672.9,131.8 1676.2,126.5C1679.5,121.2 1683.4,117.1 1686.2,113.2C1689.0,109.3 1690.7,105.4 1692.9,103.2C1695.1,101.0 1697.3,103.5 1699.5,99.9C1701.7,96.3 1704.2,86.9 1706.2,81.6C1708.2,76.3 1710.6,70.3 1711.5,68.0" stroke="#00a005" stroke-width="10.1" />
<path d="M1406.0,337.0 L1446.0,332.5" stroke="#00a005" stroke-width="12" />
</g>
<g class="sans" fill="#626262" stroke="#626262" stroke-width="0.9"><rect x="1366" y="518.1" width="904.7" height="541.0" fill="#fff" stroke="#000" stroke-width="7" stroke-linejoin="round"/><line x1="1392.5" y1="573.1" x2="1523.5" y2="573.1" stroke="#000000" stroke-width="9.4" stroke-linecap="round"/><text x="1539" y="591.8" font-size="56.5" textLength="217" lengthAdjust="spacingAndGlyphs">Polished</text><line x1="1392.5" y1="680.2" x2="1523.5" y2="680.2" stroke="#ffff00" stroke-width="9.4" stroke-linecap="round"/><text x="1539" y="697.8" font-size="56.5" textLength="726" lengthAdjust="spacingAndGlyphs">Annealed at 400°C for 1 hour</text><line x1="1392.5" y1="790.8" x2="1523.5" y2="790.8" stroke="#0a9bdc" stroke-width="9.4" stroke-linecap="round"/><text x="1539" y="808.8" font-size="56.5" textLength="726" lengthAdjust="spacingAndGlyphs">Annealed at 400°C for 5 hour</text><line x1="1392.5" y1="898.2" x2="1523.5" y2="898.2" stroke="#ff6a1c" stroke-width="9.4" stroke-linecap="round"/><text x="1539" y="915.9" font-size="56.5" textLength="726" lengthAdjust="spacingAndGlyphs">Annealed at 500°C for 1 hour</text><line x1="1392.5" y1="1005.2" x2="1523.5" y2="1005.2" stroke="#00a005" stroke-width="9.4" stroke-linecap="round"/><text x="1539" y="1026.5" font-size="56.5" textLength="726" lengthAdjust="spacingAndGlyphs">Annealed at 800°C for 1 hour</text></g>
<g class="sans" fill="#747474" stroke="#747474" stroke-width="0.5" font-size="58.5">
<text x="304" y="93.0" text-anchor="end" textLength="68.0" lengthAdjust="spacingAndGlyphs">50</text><text x="304" y="310.5" text-anchor="end" textLength="33.5" lengthAdjust="spacingAndGlyphs">0</text><text x="304" y="529.0" text-anchor="end" textLength="83.0" lengthAdjust="spacingAndGlyphs">-50</text><text x="304" y="743.5" text-anchor="end" textLength="118.0" lengthAdjust="spacingAndGlyphs">-100</text><text x="304" y="961.0" text-anchor="end" textLength="118.0" lengthAdjust="spacingAndGlyphs">-150</text><text x="304" y="1180.3" text-anchor="end" textLength="118.0" lengthAdjust="spacingAndGlyphs">-200</text>
<text x="360.6" y="1258.5" text-anchor="middle" textLength="101.4" lengthAdjust="spacingAndGlyphs">-1.5</text><text x="758.6" y="1258.5" text-anchor="middle" textLength="53.6" lengthAdjust="spacingAndGlyphs">-1</text><text x="1161.1" y="1258.5" text-anchor="middle" textLength="100.6" lengthAdjust="spacingAndGlyphs">-0.5</text><text x="1560.8" y="1258.5" text-anchor="middle" textLength="36.2" lengthAdjust="spacingAndGlyphs">0</text><text x="1961.9" y="1258.5" text-anchor="middle" textLength="81.8" lengthAdjust="spacingAndGlyphs">0.5</text><text x="2362.0" y="1258.5" text-anchor="middle" textLength="30.0" lengthAdjust="spacingAndGlyphs">1</text>
</g>
<g class="sans" fill="#585858" stroke="#585858" stroke-width="0.4">
<text transform="translate(130,839.3) rotate(-90)" font-size="98" stroke-width="0"><tspan x="-3" font-style="italic">i</tspan><tspan x="39"> </tspan><tspan x="65.4">[</tspan><tspan x="95.3">u</tspan><tspan x="147.3">A</tspan><tspan x="215.8">/</tspan><tspan x="240.3">c</tspan><tspan x="295.7">m</tspan><tspan x="379" font-size="68" dy="-32">2</tspan><tspan x="418.6" dy="32">]</tspan></text>
<text x="1044" y="1372" font-size="90" font-style="italic" textLength="55" lengthAdjust="spacingAndGlyphs">E</text>
<text x="1109" y="1372" font-size="90" textLength="110" lengthAdjust="spacingAndGlyphs">vs.</text>
<text x="1238" y="1372" font-size="90" textLength="97" lengthAdjust="spacingAndGlyphs">Ag</text>
<text x="1344" y="1371.5" font-size="90" textLength="21" lengthAdjust="spacingAndGlyphs">|</text>
<text x="1376" y="1372" font-size="90" textLength="180" lengthAdjust="spacingAndGlyphs">AgCl</text>
<text x="1584" y="1372" font-size="90" textLength="100" lengthAdjust="spacingAndGlyphs">[V]</text>
</g>
</g>
<g class="serif" fill="#000">
<text transform="translate(59.85,135) scale(0.85,1)" font-size="92">(</text>
<text x="87" y="134" font-size="92" font-weight="bold">b</text>
<text transform="translate(138.8,135) scale(0.85,1)" font-size="92">)</text>
<g font-size="88">
<text transform="translate(385.4,287.3) scale(1.13,1)">N</text>
<text x="455" y="287.3">i</text>
<text x="478" y="287.3" font-size="48">3</text>
<text transform="translate(502,287.6) scale(1.09,1.03)">O</text>
<text transform="translate(567.6,287.3) scale(1.1,1)" font-size="48">4</text>
<text transform="translate(593.4,295.8) scale(1.15,1.17)">/</text>
<text transform="translate(621.5,287.3) scale(1.13,1)">N</text>
<text x="690.5" y="287.3">i</text>
<text transform="translate(713.7,287.6) scale(1.08,1.03)">O</text>
<text transform="translate(780.4,295.8) scale(1.15,1.17)">/</text>
<text transform="translate(807.8,287.3) scale(1.13,1)">N</text>
<text x="876.5" y="287.3">i</text>
</g>
<line x1="667.2" y1="355.5" x2="722.5" y2="488" stroke="#000" stroke-width="5"/>
<polygon points="699.2,498.1 745.8,477.9 741.3,532.1" fill="#000"/>
</g>
</svg>
</body></html>
